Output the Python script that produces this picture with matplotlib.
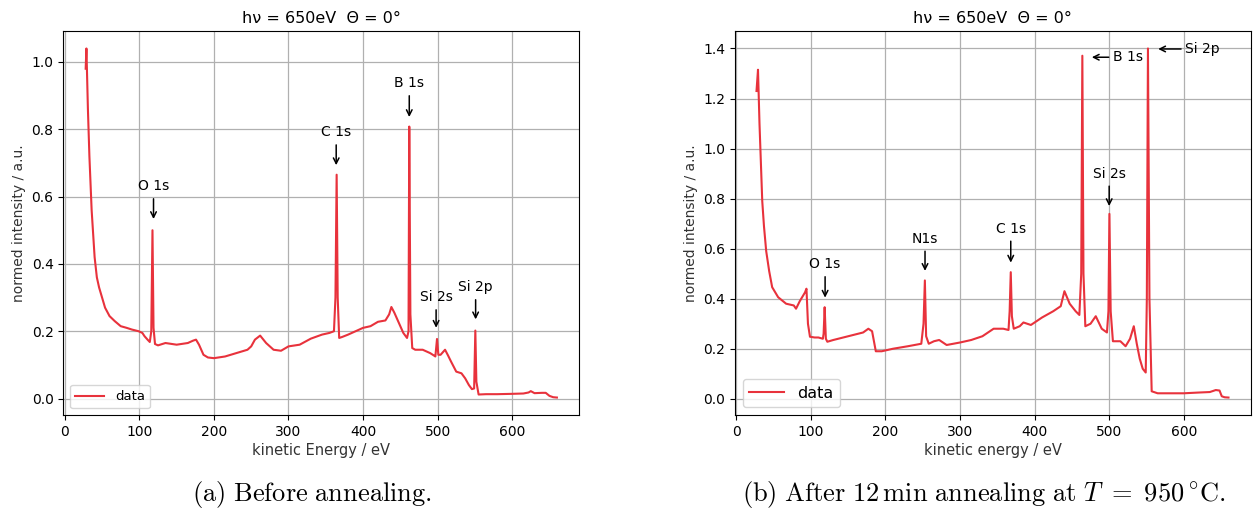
import matplotlib
matplotlib.use('Agg')
import matplotlib.pyplot as plt

plt.rcParams['mathtext.fontset'] = 'cm'

# (a) before annealing: kinetic energy / eV and normed intensity
energy_a = [28, 29, 31, 33, 36, 40, 43, 46, 50, 54, 60, 67, 75, 83, 90, 99, 104,
            107, 111, 114, 116, 117.6, 119, 121, 125, 135, 150, 165, 172, 176, 180,
            186, 192, 200, 215, 230, 245, 250, 255, 262, 270, 280, 290, 300, 315,
            330, 345, 355, 361, 363, 364.6, 366, 368, 372, 380, 390, 400, 410, 420,
            430, 435, 438, 442, 448, 454, 459, 461, 462, 463.5, 466, 470, 480, 490,
            495, 497, 499.2, 501, 504, 510, 514, 518, 525, 532, 537, 542, 546, 549,
            550.6, 552, 555, 565, 580, 600, 615, 622, 625, 630, 640, 645, 650, 655,
            660]
intensity_a = [0.98, 1.04, 0.86, 0.72, 0.56, 0.42, 0.36, 0.33, 0.30, 0.27, 0.245,
               0.23, 0.215, 0.21, 0.205, 0.20, 0.195, 0.185, 0.175, 0.168, 0.2, 0.50,
               0.21, 0.162, 0.158, 0.165, 0.16, 0.165, 0.172, 0.175, 0.16, 0.13, 0.122,
               0.12, 0.125, 0.135, 0.145, 0.155, 0.175, 0.187, 0.165, 0.145, 0.142,
               0.155, 0.16, 0.178, 0.19, 0.195, 0.2, 0.3, 0.665, 0.3, 0.18, 0.183,
               0.19, 0.2, 0.21, 0.215, 0.228, 0.232, 0.25, 0.272, 0.255, 0.225, 0.195,
               0.18, 0.2, 0.808, 0.25, 0.15, 0.145, 0.145, 0.135, 0.128, 0.125, 0.177,
               0.13, 0.13, 0.145, 0.128, 0.11, 0.08, 0.075, 0.06, 0.04, 0.028, 0.03,
               0.202, 0.05, 0.012, 0.013, 0.013, 0.014, 0.015, 0.018, 0.022, 0.016,
               0.017, 0.017, 0.008, 0.004, 0.003]

# (b) after 12 min annealing at 950 C
energy_b = [27, 29, 31, 34.7, 37, 40, 44, 48, 56, 66.7, 77, 80, 85, 92, 94, 96,
            98.7, 105, 110, 116, 117, 118.4, 120, 122, 130, 150, 170, 177, 182, 187,
            195, 210, 230, 248, 251, 252.8, 254.5, 258, 265, 272, 282, 300, 315,
            330, 345, 358, 365, 366.5, 368, 369.5, 372, 380, 385, 395, 410, 425,
            435, 440, 447, 455, 460, 462.5, 464, 465.5, 468, 475, 482, 490, 497,
            499, 500.3, 502, 505, 515, 522, 528, 533, 537, 541, 545, 549, 550.5,
            552, 554, 557, 565, 580, 600, 620, 635, 643, 648, 651, 655, 660]
intensity_b = [1.23, 1.315, 1.1, 0.79, 0.69, 0.59, 0.51, 0.446, 0.406, 0.38,
               0.373, 0.36, 0.39, 0.425, 0.44, 0.3, 0.248, 0.245, 0.245, 0.24, 0.26,
               0.366, 0.24, 0.228, 0.235, 0.25, 0.265, 0.28, 0.27, 0.19, 0.19, 0.2,
               0.21, 0.22, 0.3, 0.473, 0.25, 0.22, 0.23, 0.235, 0.215, 0.225, 0.235,
               0.25, 0.28, 0.28, 0.275, 0.35, 0.506, 0.33, 0.28, 0.29, 0.305, 0.295,
               0.325, 0.35, 0.37, 0.43, 0.38, 0.35, 0.335, 0.5, 1.371, 0.5, 0.29,
               0.3, 0.33, 0.28, 0.265, 0.35, 0.739, 0.35, 0.23, 0.23, 0.21, 0.24,
               0.29, 0.22, 0.16, 0.12, 0.105, 0.4, 1.40, 0.4, 0.03, 0.022, 0.022,
               0.022, 0.025, 0.027, 0.035, 0.033, 0.01, 0.006, 0.005]

# peak labels: (text, peak energy, arrow tip, text bottom)
peaks_a = [('O 1s', 119, 0.525, 0.61),
           ('C 1s', 364, 0.685, 0.77),
           ('B 1s', 462, 0.828, 0.916),
           ('Si 2s', 498, 0.202, 0.28),
           ('Si 2p', 551, 0.227, 0.31)]
peaks_b = [('O 1s', 119, 0.393, 0.51),
           ('N1s', 253, 0.50, 0.612),
           ('C 1s', 368, 0.533, 0.652),
           ('Si 2s', 500, 0.759, 0.872)]
# horizontal labels on the right panel: (text, arrow tip x, text x, y)
side_b = [('B 1s', 473, 505, 1.365),
          ('Si 2p', 562, 602, 1.398)]

title = 'h\u03bd = 650eV  \u0398 = 0\u00b0'
red = '#e8323c'

fig = plt.figure(figsize=(12.56, 5.17), dpi=100)
ax1 = fig.add_axes([0.0504, 0.1973, 0.4108, 0.7427])
ax2 = fig.add_axes([0.5851, 0.1973, 0.4108, 0.7427])

for ax, x, y, xlab, lsize in [(ax1, energy_a, intensity_a, 'kinetic Energy / eV', 9.5),
                              (ax2, energy_b, intensity_b, 'kinetic energy / eV', 11.5)]:
    ax.plot(x, y, color=red, lw=1.5, label='data')
    ax.set_xlim(-2, 690)
    ax.set_xticks([0, 100, 200, 300, 400, 500, 600])
    ax.grid(True, color='#b0b0b0', lw=0.9)
    ax.set_axisbelow(True)
    ax.set_title(title, fontsize=11.5, pad=6)
    ax.set_xlabel(xlab, fontsize=10.5, color='#333333', labelpad=3)
    ax.set_ylabel('normed intensity / a.u.', fontsize=10, color='#333333', labelpad=4)
    ax.tick_params(labelsize=10)
    ax.legend(loc='lower left', fontsize=lsize, handlelength=2.2)

for txt, px, tip, ty in peaks_a:
    ax1.annotate(txt, xy=(px, tip), xytext=(px, ty), ha='center', va='bottom',
                 fontsize=10, arrowprops=dict(arrowstyle='->', color='black', lw=1.1))
for txt, px, tip, ty in peaks_b:
    ax2.annotate(txt, xy=(px, tip), xytext=(px, ty), ha='center', va='bottom',
                 fontsize=10, arrowprops=dict(arrowstyle='->', color='black', lw=1.1))
for txt, tipx, tx, ty in side_b:
    ax2.annotate(txt, xy=(tipx, ty), xytext=(tx, ty), ha='left', va='center',
                 fontsize=10, arrowprops=dict(arrowstyle='->', color='black', lw=1.1,
                                              shrinkA=1))

fig.text(0.2484, 0.031, r'$\mathrm{(a)\ Before\ annealing.}$', ha='center',
         va='baseline', fontsize=19)
fig.text(0.7834, 0.031,
         r'$\mathrm{(b)\ After\ 12\,min\ annealing\ at\ }T\ =\ 950\,^{\circ}\mathrm{C.}$',
         ha='center', va='baseline', fontsize=19)

fig.savefig('out.png', dpi=100)
